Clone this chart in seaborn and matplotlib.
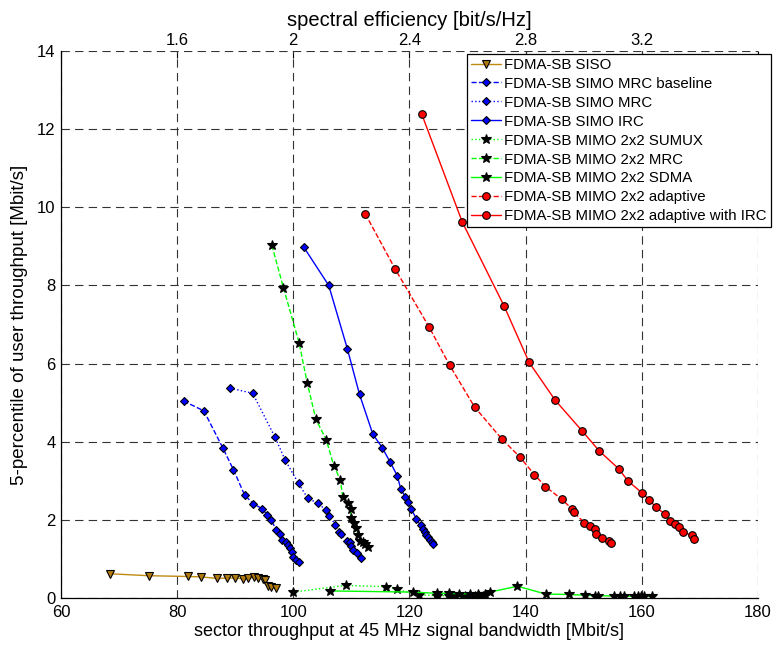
import matplotlib
matplotlib.use("Agg")
import matplotlib.pyplot as plt
import pandas as pd
import seaborn as sns

# Sector throughput [Mbit/s] and 5-percentile user throughput [Mbit/s] per scheme
siso_x = [68.4, 75.1, 81.8, 84.1, 86.8, 88.6, 90.0, 91.4, 92.2, 93.2, 94.0, 94.8, 95.2, 95.6, 96.2, 97.1]
siso_y = [0.62, 0.57, 0.55, 0.54, 0.50, 0.51, 0.51, 0.49, 0.50, 0.53, 0.50, 0.49, 0.47, 0.30, 0.27, 0.26]

simo_mrc_base_x = [81.1, 84.6, 87.9, 89.7, 91.6, 93.1, 94.6, 95.5, 96.2, 97.1, 97.7, 98.0, 98.7, 99.1,
                   99.4, 99.7, 100.0, 100.5, 100.9]
simo_mrc_base_y = [5.04, 4.79, 3.83, 3.28, 2.64, 2.41, 2.29, 2.13, 1.99, 1.74, 1.65, 1.49, 1.44, 1.35,
                   1.27, 1.17, 1.04, 0.98, 0.93]

simo_mrc_x = [89.1, 93.0, 96.8, 98.6, 100.9, 102.5, 104.3, 105.6, 106.2, 107.2, 107.9, 108.2, 109.3,
              109.8, 110.0, 110.3, 110.9, 111.6]
simo_mrc_y = [5.37, 5.24, 4.13, 3.53, 2.93, 2.55, 2.42, 2.25, 2.11, 1.88, 1.70, 1.63, 1.47,
              1.42, 1.32, 1.24, 1.14, 1.03]

simo_irc_x = [101.8, 106.1, 109.3, 111.4, 113.7, 115.3, 116.7, 117.9, 118.5, 119.3, 119.8, 120.3, 121.2,
              121.9, 122.3, 122.6, 122.9, 123.2, 123.5, 123.8, 124.1]
simo_irc_y = [8.98, 8.00, 6.38, 5.21, 4.19, 3.85, 3.47, 3.13, 2.79, 2.59, 2.45, 2.28, 2.02,
              1.86, 1.77, 1.68, 1.62, 1.55, 1.49, 1.43, 1.37]

mimo_sumux_x = [100.0, 109.0, 116.0, 117.8, 121.6, 124.7, 126.8, 127.6, 129.5, 130.5, 131.2, 132.0, 132.6]
mimo_sumux_y = [0.15, 0.32, 0.29, 0.22, 0.08, 0.06, 0.06, 0.05, 0.05, 0.05, 0.05, 0.05, 0.05]

mimo_mrc_x = [96.3, 98.3, 101.0, 102.4, 103.9, 105.7, 107.0, 108.1, 108.5, 109.4, 109.9, 109.9, 110.5,
              110.8, 111.1, 111.4, 112.0, 112.4, 112.8]
mimo_mrc_y = [9.03, 7.94, 6.53, 5.50, 4.57, 4.04, 3.37, 3.03, 2.59, 2.42, 2.29, 2.05, 1.92,
              1.78, 1.61, 1.47, 1.43, 1.37, 1.30]

mimo_sdma_x = [106.4, 120.6, 124.7, 126.8, 128.5, 130.5, 131.8, 133.0, 133.8, 138.6, 143.5, 147.5, 150.2,
               152.0, 152.5, 155.2, 156.2, 156.9, 158.7, 159.3, 159.8, 160.4, 161.8]
mimo_sdma_y = [0.18, 0.15, 0.12, 0.12, 0.11, 0.11, 0.11, 0.11, 0.15, 0.30, 0.10, 0.09, 0.07,
               0.06, 0.06, 0.05, 0.05, 0.05, 0.04, 0.04, 0.04, 0.04, 0.04]

mimo_adapt_x = [112.4, 117.5, 123.4, 126.9, 131.2, 135.9, 139.0, 141.5, 143.4, 146.2, 147.9, 148.3,
                150.1, 151.0, 152.0, 152.2, 153.1, 154.4, 154.7]
mimo_adapt_y = [9.83, 8.43, 6.93, 5.96, 4.89, 4.07, 3.61, 3.16, 2.85, 2.53, 2.29, 2.19,
                1.93, 1.85, 1.76, 1.64, 1.54, 1.45, 1.40]

mimo_adapt_irc_x = [122.1, 129.1, 136.3, 140.6, 145.1, 149.7, 152.7, 156.0, 157.6, 160.1, 161.3, 162.4,
                    164.0, 164.8, 165.7, 166.4, 167.1, 168.7, 169.0]
mimo_adapt_irc_y = [12.39, 9.62, 7.47, 6.03, 5.06, 4.28, 3.76, 3.31, 3.00, 2.68, 2.52, 2.32,
                    2.15, 1.98, 1.89, 1.81, 1.68, 1.60, 1.50]

names = ["FDMA-SB SISO", "FDMA-SB SIMO MRC baseline", "FDMA-SB SIMO MRC", "FDMA-SB SIMO IRC",
         "FDMA-SB MIMO 2x2 SUMUX", "FDMA-SB MIMO 2x2 MRC", "FDMA-SB MIMO 2x2 SDMA",
         "FDMA-SB MIMO 2x2 adaptive", "FDMA-SB MIMO 2x2 adaptive with IRC"]
xs = [siso_x, simo_mrc_base_x, simo_mrc_x, simo_irc_x, mimo_sumux_x, mimo_mrc_x, mimo_sdma_x,
      mimo_adapt_x, mimo_adapt_irc_x]
ys = [siso_y, simo_mrc_base_y, simo_mrc_y, simo_irc_y, mimo_sumux_y, mimo_mrc_y, mimo_sdma_y,
      mimo_adapt_y, mimo_adapt_irc_y]

df = pd.concat([pd.DataFrame({"scheme": n, "tput": x, "p5": y}) for n, x, y in zip(names, xs, ys)],
               ignore_index=True)

# line colour, marker face colour, line style, marker, marker size
styles = {
    "FDMA-SB SISO": ("#c08a10", "#b07a10", "-", "v", 5.5),
    "FDMA-SB SIMO MRC baseline": ("#0000ff", "#0000ff", "--", "D", 4.5),
    "FDMA-SB SIMO MRC": ("#0000ff", "#0000ff", ":", "D", 4.5),
    "FDMA-SB SIMO IRC": ("#0000ff", "#0000ff", "-", "D", 4.5),
    "FDMA-SB MIMO 2x2 SUMUX": ("#00ff00", "black", ":", "*", 7.5),
    "FDMA-SB MIMO 2x2 MRC": ("#00ff00", "black", "--", "*", 7.5),
    "FDMA-SB MIMO 2x2 SDMA": ("#00ff00", "black", "-", "*", 7.5),
    "FDMA-SB MIMO 2x2 adaptive": ("#ff0000", "#ff0000", "--", "o", 5.5),
    "FDMA-SB MIMO 2x2 adaptive with IRC": ("#ff0000", "#ff0000", "-", "o", 5.5),
}

sns.set_style("white")
plt.rcParams["font.family"] = ["Liberation Sans", "DejaVu Sans"]
plt.rcParams["lines.scale_dashes"] = False
plt.rcParams["xtick.direction"] = "in"
plt.rcParams["ytick.direction"] = "in"
for key in ("text.color", "axes.labelcolor", "xtick.color", "ytick.color", "xtick.labelcolor",
            "ytick.labelcolor"):
    plt.rcParams[key] = "black"

fig = plt.figure(figsize=(7.75, 6.48), dpi=100)
ax = fig.add_axes([0.0787, 0.0772, 0.8993, 0.8441])

for n in names:
    lc, fc, ls, mk, ms = styles[n]
    sns.lineplot(data=df[df["scheme"] == n], x="tput", y="p5", ax=ax, estimator=None, sort=False,
                 color=lc, linestyle=ls, linewidth=1.0, marker=mk, markersize=ms,
                 markerfacecolor=fc, markeredgecolor="black", markeredgewidth=0.8, label=n)

ax.set_xlim(60, 180)
ax.set_ylim(0, 14)
ax.set_xticks(range(60, 181, 20))
ax.set_yticks(range(0, 15, 2))
ax.tick_params(axis="both", labelsize=12, length=5, width=0.8, color="black", labelcolor="black")
ax.tick_params(axis="x", pad=5)
ax.tick_params(axis="y", pad=4)
ax.grid(True, linestyle=(0, (6, 3.8)), color="0.2", linewidth=0.8)
ax.set_axisbelow(True)
for side in ("top", "right"):
    ax.spines[side].set_visible(False)
for side in ("left", "bottom"):
    ax.spines[side].set_color("black")
    ax.spines[side].set_linewidth(0.9)

ax.set_xlabel("sector throughput at 45 MHz signal bandwidth [Mbit/s]", fontsize=13, labelpad=2,
              color="black")
ax.set_ylabel("5-percentile of user throughput [Mbit/s]", fontsize=13.5, labelpad=6, color="black")

# spectral efficiency axis: 50 MHz total bandwidth
sec = ax.secondary_xaxis("top", functions=(lambda t: t / 50.0, lambda s: s * 50.0))
sec.set_xticks([1.2, 1.6, 2.0, 2.4, 2.8, 3.2, 3.6])
sec.set_xticklabels(["", "1.6", "2", "2.4", "2.8", "3.2", ""])
sec.tick_params(axis="x", direction="in", length=5, width=0.8, labelsize=12, pad=2,
                color="black", labelcolor="black")
sec.spines["top"].set_visible(False)
sec.set_xlabel("spectral efficiency [bit/s/Hz]", fontsize=14.5, labelpad=5, color="black")

leg = ax.legend(loc="upper left", bbox_to_anchor=(467 / 775, 1 - 54 / 648), bbox_transform=fig.transFigure,
                fontsize=10.8, frameon=True, fancybox=False, framealpha=1, edgecolor="black",
                handlelength=2.0, handletextpad=0.25, labelspacing=0.33, borderpad=0.25, borderaxespad=0)
leg.get_frame().set_linewidth(0.9)
for t in leg.get_texts():
    t.set_color("black")

fig.savefig("out.png", dpi=100)
